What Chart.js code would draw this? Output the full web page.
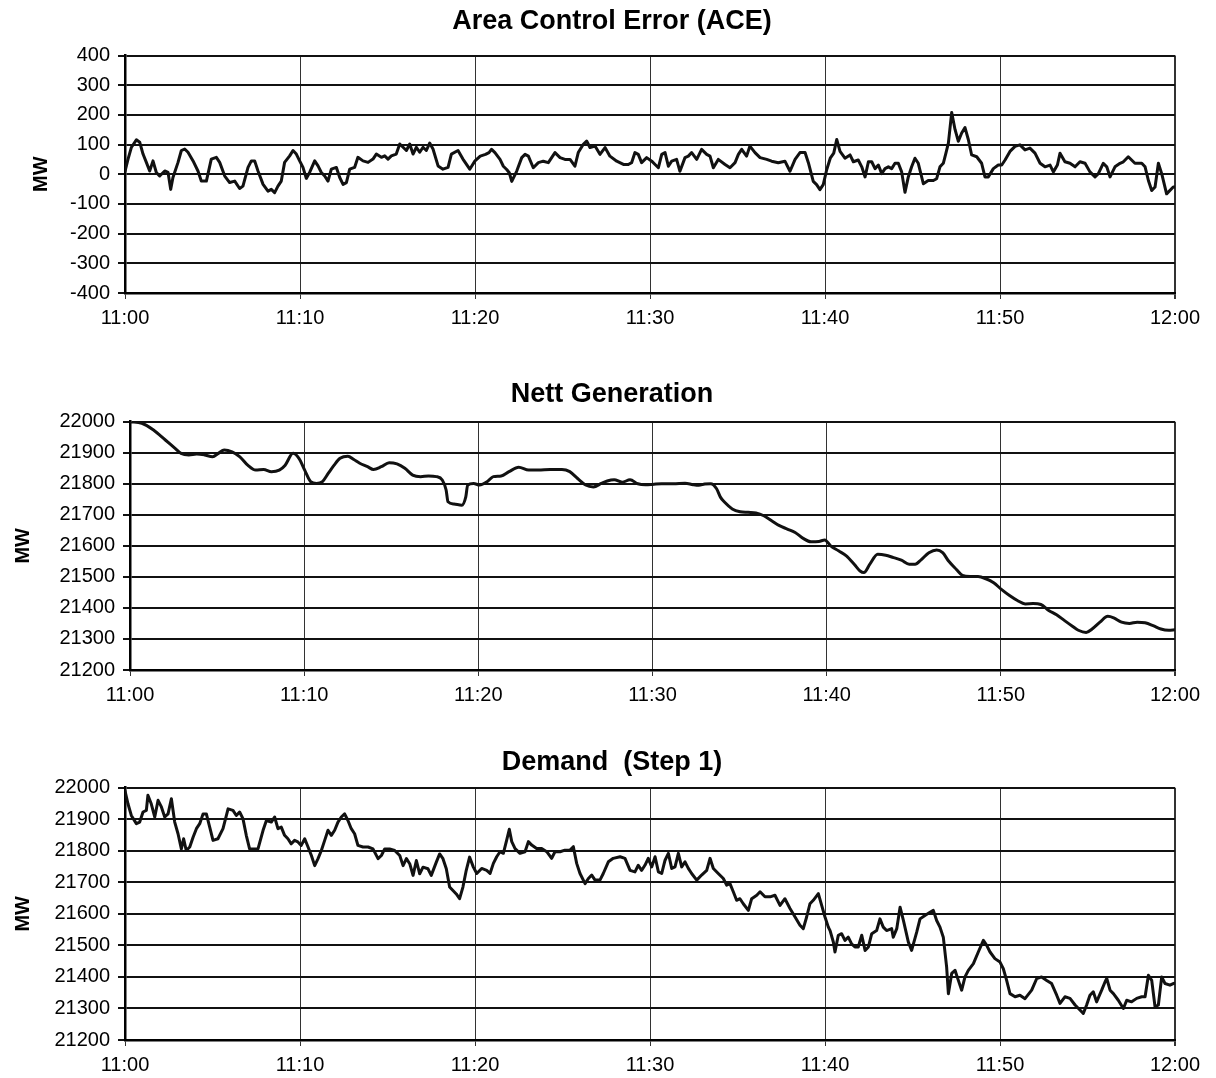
<!DOCTYPE html>
<html><head><meta charset="utf-8">
<script src="https://cdn.jsdelivr.net/npm/chart.js@4/dist/chart.umd.min.js"></script>
<style>
html,body{margin:0;padding:0;background:#fff;width:1216px;height:1078px;overflow:hidden;}
.wrap{position:absolute;left:0;width:1216px;}
canvas{display:block;}
</style></head><body>
<div class="wrap" style="top:0px"><canvas id="c1" width="1216" height="338"></canvas></div>
<div class="wrap" style="top:360px"><canvas id="c2" width="1216" height="355"></canvas></div>
<div class="wrap" style="top:730px"><canvas id="c3" width="1216" height="348"></canvas></div>
<script>
// ---------- tick labels ----------
const X_TICKS = [0, 10, 20, 30, 40, 50, 60];            // minutes after 11:00
const X_LABELS = ['11:00', '11:10', '11:20', '11:30', '11:40', '11:50', '12:00'];
const ACE_LABELS = ['-400', '-300', '-200', '-100', '0', '100', '200', '300', '400'];
const MW_LABELS = ['21200', '21300', '21400', '21500', '21600', '21700', '21800', '21900', '22000'];

// ---------- Area Control Error (ACE) ----------
const ACE_T = [0,0.17,0.36,0.65,0.84,1.03,1.22,1.41,1.6,1.79,1.98,2.27,2.46,2.61,2.74,3.03,3.22,3.41,3.6,3.89,4.17,4.36,4.65,4.93,5.22,5.41,5.7,5.98,6.27,6.55,6.74,7.03,7.22,7.41,7.6,7.89,8.17,8.36,8.55,8.74,8.93,9.12,9.41,9.6,9.79,9.98,10.17,10.36,10.55,10.84,11.03,11.22,11.41,11.6,11.79,12.08,12.27,12.46,12.65,12.84,13.12,13.31,13.6,13.89,14.17,14.36,14.65,14.84,15.03,15.22,15.5,15.7,15.89,16.08,16.27,16.46,16.65,16.84,17.03,17.22,17.41,17.6,17.89,18.17,18.46,18.65,19.03,19.31,19.7,
20.0,20.3,20.6,20.8,20.95,21.14,21.43,21.62,21.81,21.96,22.1,22.38,22.67,22.86,23.05,23.33,23.62,23.9,24.19,24.38,24.57,24.86,25.14,25.43,25.71,25.9,26.19,26.38,26.57,26.86,27.14,27.43,27.71,28.1,28.48,28.76,28.95,29.14,29.33,29.52,29.81,30.1,30.29,30.48,30.67,30.86,31.05,31.24,31.52,31.71,32.0,32.19,32.38,32.67,32.95,33.24,33.43,33.62,33.9,34.29,34.57,34.86,35.05,35.24,35.52,35.71,36.0,36.29,36.67,36.95,37.33,37.71,38.0,38.29,38.57,38.86,39.05,39.33,39.52,39.71,39.9,
40.1,40.3,40.5,40.67,40.86,41.14,41.43,41.62,41.9,42.1,42.29,42.48,42.67,42.86,43.05,43.24,43.43,43.62,43.81,44.0,44.19,44.38,44.57,44.76,44.95,45.14,45.33,45.62,45.9,46.19,46.38,46.57,46.76,46.91,47.05,47.24,47.43,47.62,47.81,48.0,48.19,48.38,48.67,48.95,49.14,49.33,49.62,49.9,50.1,50.29,50.57,50.86,51.14,51.43,51.71,52.0,52.29,52.57,52.86,53.05,53.28,53.43,53.71,54.0,54.29,54.57,54.86,55.14,55.43,55.62,55.9,56.1,56.29,56.57,56.86,57.05,57.33,57.71,58.1,58.29,58.48,58.67,58.86,59.05,59.24,59.52,59.9,60];
const ACE_MW = [10,50,90,116,108,68,40,11,45,6,-6,11,6,-51,-11,40,80,85,74,45,11,-23,-23,51,57,40,-6,-28,-23,-48,-40,23,45,45,11,-34,-57,-51,-62,-40,-23,40,62,80,68,45,23,-14,6,45,28,6,-6,-23,17,23,-11,-34,-28,17,23,57,45,40,51,68,57,62,51,62,68,102,91,80,102,68,91,74,91,80,105,85,28,17,23,68,80,51,17,45,
61,67,73,84,73,50,27,16,5,-24,10,56,67,61,22,39,44,39,56,73,56,50,50,27,73,101,112,90,95,67,90,61,44,33,33,39,73,67,39,56,44,33,22,67,73,27,44,50,10,56,61,73,50,84,67,61,22,50,33,22,39,67,84,61,95,73,56,50,44,39,44,10,50,73,73,39,-24,-35,-52,-35,16,
54,71,117,77,54,65,42,48,25,-9,42,42,19,31,2,19,25,19,37,37,8,-61,-9,25,54,37,-32,-21,-21,-15,25,37,71,105,208,151,111,139,157,117,65,59,37,-9,-9,19,31,31,48,77,94,99,82,88,71,37,25,31,8,31,71,42,37,25,42,37,8,-9,2,37,25,-9,25,37,42,59,37,37,25,-21,-55,-43,37,2,-66,-43,-43,-43];

// ---------- Nett Generation ----------
const GEN_T = [0,0.68,1.35,2.03,2.59,2.93,3.38,3.83,4.28,4.74,5.07,5.41,5.86,6.31,6.76,7.22,7.67,8.12,8.57,8.91,9.36,9.7,10.03,10.37,10.71,11.05,11.39,11.72,12.06,12.51,12.85,13.19,13.64,13.98,14.43,14.88,15.33,15.78,16.23,16.69,17.14,17.59,17.93,18.15,18.26,18.6,19.05,19.28,19.39,19.73,20.07,20.52,20.86,21.31,21.76,22.32,22.89,23.45,24.13,24.8,25.25,25.7,26.16,26.61,27.06,27.4,
27.8,28.26,28.71,29.16,29.6,30.0,30.52,31.2,31.87,32.33,32.66,33.0,33.34,33.68,33.9,34.13,34.58,35.03,35.49,35.94,36.39,36.84,37.29,37.74,38.19,38.65,39.1,39.55,39.89,40.23,40.68,41.13,41.58,41.92,42.14,42.48,42.93,43.39,43.84,44.29,44.74,45.08,45.42,45.87,46.32,46.66,47.0,47.45,47.79,48.24,48.69,49.14,49.59,50.05,50.5,50.95,51.4,51.85,52.3,52.75,53.2,53.66,54.11,54.45,54.9,55.24,55.69,56.14,56.48,56.93,57.38,57.83,58.28,58.74,59.19,59.64,60];
const GEN_MW = [22000,21995,21973,21941,21914,21898,21893,21896,21893,21887,21898,21909,21903,21887,21860,21844,21846,21839,21844,21860,21898,21882,21844,21807,21801,21807,21834,21860,21882,21889,21878,21866,21855,21846,21855,21868,21864,21850,21828,21823,21825,21823,21812,21780,21742,21735,21731,21758,21796,21801,21796,21807,21823,21825,21839,21853,21844,21844,21846,21846,21839,21817,21796,21790,21801,21809,
21813,21805,21813,21800,21797,21798,21800,21800,21802,21797,21795,21799,21800,21784,21757,21741,21719,21710,21708,21706,21697,21681,21665,21654,21643,21624,21613,21614,21619,21600,21584,21568,21541,21519,21514,21541,21573,21570,21562,21554,21541,21541,21555,21578,21587,21578,21551,21524,21505,21501,21501,21494,21481,21459,21440,21424,21413,21414,21411,21392,21378,21359,21341,21328,21321,21332,21354,21373,21368,21354,21350,21354,21352,21343,21332,21328,21330];

// ---------- Demand (Step 1) ----------
const DEM_T = [0,0.17,0.36,0.65,0.84,1.03,1.22,1.31,1.5,1.7,1.89,2.08,2.27,2.46,2.65,2.84,3.03,3.22,3.35,3.5,3.7,3.89,4.08,4.27,4.46,4.65,4.84,5.03,5.31,5.6,5.89,6.17,6.36,6.55,6.74,6.93,7.12,7.41,7.6,7.89,8.08,8.36,8.55,8.74,8.93,9.12,9.31,9.5,9.69,9.88,10.07,10.27,10.46,10.65,10.84,11.03,11.22,11.41,11.6,11.79,11.98,12.17,12.36,12.55,12.74,12.93,13.12,13.31,13.6,13.89,14.17,14.46,14.65,14.84,15.12,15.41,15.7,15.89,16.08,16.27,16.46,16.65,16.84,17.03,17.31,17.5,17.79,17.98,18.17,18.36,18.55,18.74,18.93,19.12,19.31,19.5,19.69,
19.9,20.1,20.38,20.67,20.86,21.05,21.24,21.43,21.62,21.81,21.96,22.1,22.29,22.57,22.86,23.05,23.24,23.52,23.81,24.1,24.38,24.57,24.86,25.14,25.43,25.62,25.81,26.0,26.29,26.48,26.67,26.86,27.14,27.33,27.62,27.9,28.29,28.57,28.86,29.14,29.33,29.52,29.71,29.9,30.1,30.29,30.48,30.67,30.86,31.05,31.24,31.43,31.62,31.81,32.0,32.19,32.38,32.67,32.95,33.24,33.43,33.62,33.9,34.19,34.38,34.57,34.76,34.95,35.14,35.33,35.62,35.81,36.1,36.29,36.57,36.86,37.14,37.43,37.71,38.0,38.29,38.57,38.76,38.95,39.14,39.33,39.62,39.81,40.0,
40.19,40.29,40.48,40.57,40.76,40.95,41.14,41.33,41.52,41.71,41.9,42.1,42.29,42.48,42.67,42.95,43.14,43.33,43.52,43.81,43.9,44.1,44.29,44.48,44.76,44.95,45.24,45.43,45.71,46.0,46.19,46.38,46.57,46.76,46.95,47.05,47.24,47.43,47.62,47.81,48.0,48.19,48.48,48.76,49.05,49.24,49.43,49.71,50.0,50.19,50.38,50.57,50.86,51.14,51.43,51.81,52.1,52.38,52.67,52.95,53.24,53.43,53.71,54.0,54.29,54.57,54.76,54.95,55.14,55.33,55.52,55.81,56.0,56.1,56.29,56.48,56.76,57.05,57.24,57.52,57.81,58.1,58.29,58.48,58.67,58.86,59.05,59.24,59.43,59.71,59.9,60];
const DEM_MW = [21990,21949,21912,21886,21891,21923,21928,21976,21949,21907,21960,21939,21907,21917,21965,21891,21854,21806,21838,21801,21812,21843,21870,21886,21917,21917,21875,21833,21838,21870,21933,21928,21912,21923,21902,21849,21806,21806,21806,21865,21896,21891,21907,21870,21875,21849,21838,21822,21833,21828,21817,21838,21812,21785,21753,21775,21801,21833,21865,21849,21865,21891,21907,21917,21896,21870,21854,21817,21812,21812,21806,21775,21785,21806,21806,21801,21785,21753,21775,21759,21722,21769,21727,21748,21743,21722,21764,21790,21775,21743,21685,21674,21663,21648,21685,21738,21780,
21749,21728,21744,21738,21728,21760,21781,21797,21792,21834,21868,21829,21807,21792,21797,21829,21818,21807,21807,21797,21776,21797,21797,21802,21802,21813,21760,21728,21696,21712,21723,21707,21707,21728,21765,21776,21781,21776,21738,21733,21754,21738,21754,21776,21749,21781,21733,21728,21770,21792,21744,21749,21792,21749,21765,21744,21728,21707,21723,21738,21776,21744,21728,21712,21691,21696,21670,21643,21648,21632,21611,21648,21659,21670,21654,21654,21659,21627,21648,21617,21590,21564,21553,21590,21632,21643,21664,21627,21590,
21558,21547,21510,21479,21532,21537,21516,21526,21505,21495,21495,21532,21484,21495,21537,21547,21584,21558,21547,21553,21526,21553,21621,21579,21511,21484,21542,21584,21595,21605,21611,21579,21558,21526,21432,21347,21411,21421,21389,21358,21400,21421,21442,21479,21516,21500,21479,21458,21447,21426,21389,21347,21337,21342,21331,21358,21395,21400,21389,21379,21342,21316,21337,21332,21311,21295,21284,21311,21342,21353,21321,21358,21384,21395,21358,21347,21326,21300,21326,21321,21332,21337,21337,21405,21389,21305,21311,21400,21379,21374,21379,21380];

// ---------- drawing ----------
const FONT = '"Liberation Sans", Arial, Helvetica, sans-serif';
const INK = '#000';
const zip = (t, v) => t.map((x, i) => ({ x: x, y: v[i] }));

function makeChart(id, o) {
  return new Chart(document.getElementById(id), {
    type: 'line',
    data: { datasets: [{
      data: zip(o.t, o.v), borderColor: '#111', borderWidth: 3, pointRadius: 0,
      tension: o.tension, cubicInterpolationMode: o.mode, fill: false,
      borderJoinStyle: 'round', borderCapStyle: 'round'
    }]},
    options: {
      responsive: false, animation: false, events: [],
      layout: { padding: { left: o.padL, right: 41, top: 0, bottom: 0 } },
      plugins: {
        legend: { display: false }, tooltip: { enabled: false },
        title: { display: true, text: o.title, color: INK,
          font: { family: FONT, size: 27, weight: 'bold', lineHeight: 1.2 },
          padding: { top: o.tTop, bottom: o.tBot } }
      },
      scales: {
        x: {
          type: 'linear', min: 0, max: 60,
          ticks: { stepSize: 10, autoSkip: false, maxRotation: 0, padding: 7, color: INK,
            font: { family: FONT, size: 20, lineHeight: 1.2 },
            callback: (v, i) => X_LABELS[i] },
          grid: { color: '#333', lineWidth: c => (c.tick && c.tick.value === 60 ? 2 : 1), tickLength: 6, drawTicks: true },
          border: { color: INK, width: 2.5 },
          afterFit: s => { s.height = o.xH; }
        },
        y: {
          min: o.min, max: o.max,
          ticks: { stepSize: 100, padding: 8, color: INK,
            font: { family: FONT, size: 20, lineHeight: 1.2 },
            callback: (v, i) => o.labels[i] },
          grid: { color: '#111', lineWidth: 2, tickLength: 7, drawTicks: true },
          border: { color: INK, width: 2.5 },
          title: { display: true, text: 'MW', color: INK,
            font: { family: FONT, size: 20, weight: 'bold', lineHeight: 1.2 },
            padding: { top: o.mwPad, bottom: 0 } },
          afterFit: s => { s.width = o.yW; }
        }
      }
    }
  });
}

makeChart('c1', { title: 'Area Control Error (ACE)', t: ACE_T, v: ACE_MW, tension: 0, mode: 'default',
  min: -400, max: 400, labels: ACE_LABELS, tTop: 5.3, tBot: 17.8, xH: 45, padL: 49, yW: 76, mwPad: -20 });
makeChart('c2', { title: 'Nett Generation', t: GEN_T, v: GEN_MW, tension: 0.4, mode: 'monotone',
  min: 21200, max: 22000, labels: MW_LABELS, tTop: 18.8, tBot: 10.5, xH: 45, padL: 49, yW: 81, mwPad: -38 });
makeChart('c3', { title: 'Demand  (Step 1)', t: DEM_T, v: DEM_MW, tension: 0, mode: 'default',
  min: 21200, max: 22000, labels: MW_LABELS, tTop: 16.8, tBot: 8.5, xH: 38, padL: 49, yW: 76, mwPad: -38 });
</script>
</body></html>
